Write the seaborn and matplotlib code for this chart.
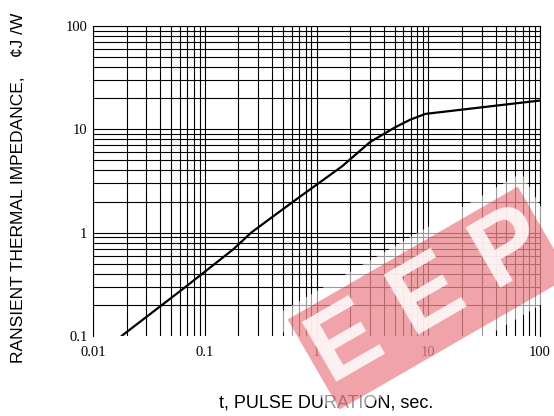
import numpy as np
import seaborn as sns
import matplotlib.pyplot as plt
from matplotlib.ticker import LogLocator, NullFormatter

# ---------------- data ----------------
pulse_duration = [0.018, 0.065, 0.18, 0.26, 0.41, 0.72, 1.7, 3.0, 5.0, 6.9, 9.4, 100]  # sec
thermal_impedance = [0.10, 0.29, 0.69, 1.0, 1.44, 2.25, 4.4, 7.5, 10.4, 12.4, 14.1, 19.0]

x_ticks = [0.01, 0.1, 1, 10, 100]
x_tick_labels = ["0.01", "0.1", "1", "10", "100"]
y_ticks = [0.1, 1, 10, 100]
y_tick_labels = ["0.1", "1", "10", "100"]

x_label = "t, PULSE DURATION, sec."
y_label = "RANSIENT THERMAL IMPEDANCE,    \u00a2J /W"
watermark = "E E P"

# ---------------- style ----------------
sns.set_theme(style="white")
plt.rcParams['font.family'] = ['Liberation Sans', 'DejaVu Sans']

W, H = 554, 416
fig = plt.figure(figsize=(W / 100, H / 100), dpi=100)
ax = fig.add_axes([93 / W, 80 / H, 447 / W, 310 / H])

# curve
sns.lineplot(x=pulse_duration, y=thermal_impedance, ax=ax, color="black",
             linewidth=1.6, sort=False, zorder=5)

ax.set_xscale("log")
ax.set_yscale("log")
ax.set_xlim(0.01, 100)
ax.set_ylim(0.1, 100)

ax.set_xticks(x_ticks, x_tick_labels)
ax.set_yticks(y_ticks, y_tick_labels)
for axis in (ax.xaxis, ax.yaxis):
    axis.set_minor_locator(LogLocator(base=10, subs=np.arange(2, 10)))
    axis.set_minor_formatter(NullFormatter())

# dense grid, black
ax.grid(which="both", color="black", linewidth=0.8)
ax.tick_params(which="both", length=0)
ax.tick_params(axis="x", pad=7)
ax.tick_params(axis="y", pad=4)
for lab in ax.get_xticklabels() + ax.get_yticklabels():
    lab.set_fontfamily("Liberation Serif")
    lab.set_fontsize(10.5)
    lab.set_color("black")

# no line along the bottom (0.1) edge
ax.yaxis.get_major_ticks()[0].gridline.set_visible(False)

for side in ["left", "top", "right"]:
    ax.spines[side].set_color("black")
    ax.spines[side].set_linewidth(0.8)
ax.spines["bottom"].set_visible(False)

# axis labels
ax.set_xlabel(x_label, fontsize=13, color="black")
ax.xaxis.set_label_coords((326 - 93) / 447, (336 - 403) / 310)
ax.xaxis.label.set_va("center")
ax.set_ylabel(y_label, fontsize=12.5, color="black")
ax.yaxis.set_label_coords((19 - 93) / 447, (336 - 188) / 310)
ax.yaxis.label.set_va("center")

# red watermark in the lower right
wm_x, wm_y = 318 / W, 1 - 362 / H
fig.text(wm_x, wm_y, watermark, rotation=30, rotation_mode="anchor",
         ha="left", va="center", fontsize=72, fontweight="bold", color="none",
         bbox=dict(boxstyle="square,pad=0.15", fc="white", ec="none", alpha=0.6))
fig.text(wm_x, wm_y, watermark, rotation=30, rotation_mode="anchor",
         ha="left", va="center", fontsize=72, fontweight="bold", color="white",
         alpha=0.85,
         bbox=dict(boxstyle="square,pad=0.05", fc="#dc2832", ec="none", alpha=0.42))

fig.savefig("out.png", dpi=100)
